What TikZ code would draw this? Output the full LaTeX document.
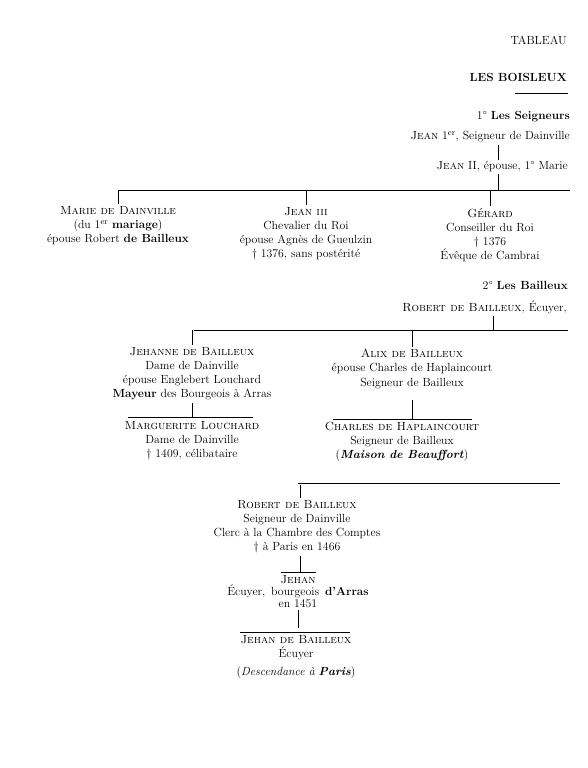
\documentclass[tikz,border=0pt]{standalone}
\usepackage{fontspec}
\begin{document}
\begin{tikzpicture}[x=1pt,y=-1pt,
    every node/.style={inner sep=0pt,font=\fontsize{11.8}{14.2}\selectfont},
    person/.style={anchor=north,align=center},
    head/.style={anchor=east},
    bar/.style={line width=0.6pt}]
    \useasboundingbox (0,0) rectangle (588,768);
    \node[head] (tab) at (567,40) {TABLEAU};
    \node[head] (title) at (567,77) {\textbf{LES BOISLEUX}};
    \draw[bar] (515,93) -- (568,93);
    \node[head] (sec1) at (570,117) {1° \textbf{Les Seigneurs}};
    \node[head] (jean1) at (570,137) {\textsc{Jean} 1\textsuperscript{er}, Seigneur\ de\ Dainville};
    \node[head] (jean2) at (568,167) {\textsc{Jean} II, épouse,\ 1° Marie};
    \coordinate (s1) at (498,190);
    \draw[bar] ([yshift=-2pt]jean1.south -| s1) -- ([yshift=2pt]jean2.north -| s1);
    \draw[bar] ([yshift=-2pt]jean2.south -| s1) -- (s1);
    \coordinate (b1l) at (118,190);
    \coordinate (b1r) at (570,190);
    \draw[bar] (b1l) -- (b1r);
    \node[person] (marie) at (118,206) {\textsc{Marie de Dainville}\\(du 1\textsuperscript{er} \textbf{mariage})\\épouse Robert \textbf{de Bailleux}};
    \node[person] (jean3) at (306,207) {\textsc{Jean iii}\\Chevalier du Roi\\épouse Agnès de Gueulzin\\\dag\ 1376, sans postérité};
    \node[person] (gerard) at (490,208) {\textsc{Gérard}\\Conseiller du Roi\\\dag\ 1376\\Évêque de Cambrai};
    \foreach \n in {marie,jean3,gerard}
        \draw[bar] (\n.north |- b1l) -- ([yshift=2pt]\n.north);
    \node[head] (sec2) at (568,285) {2° \textbf{Les Bailleux}};
    \node[head] (rob) at (567,307) {\textsc{Robert de Bailleux}, Écuyer,};
    \coordinate (s2) at (493,330);
    \draw[bar] ([yshift=-2pt]rob.south -| s2) -- (s2);
    \coordinate (b2l) at (194,330);
    \coordinate (b2r) at (568,330);
    \draw[bar] (b2l) -- (b2r);
    \node[person] (jehanne) at (192,347) {\textsc{Jehanne de Bailleux}\\Dame de Dainville\\épouse Englebert Louchard\\\textbf{Mayeur} des Bourgeois à Arras};
    \node[person] (alix) at (412,349) {\textsc{Alix de Bailleux}\\épouse Charles de Haplaincourt\\Seigneur de Bailleux};
    \foreach \n in {jehanne,alix}
        \draw[bar] (\n.north |- b2l) -- ([yshift=2pt]\n.north);
    \node[person] (marg) at (192,421) {\textsc{Marguerite Louchard}\\Dame de Dainville\\\dag\ 1409, célibataire};
    \node[person] (charles) at (402,422) {\textsc{Charles de Haplaincourt}\\Seigneur de Bailleux\\(\textit{\textbf{Maison de Beauffort}})};
    \draw[bar] ([yshift=-3pt]jehanne.south) -- (192,417);
    \draw[bar] (128,417) -- (253,417);
    \draw[bar] (412,400) -- (412,419);
    \draw[bar] (333,419) -- (472,419);
    \coordinate (b3l) at (298,483);
    \coordinate (b3r) at (560,483);
    \draw[bar] (b3l) -- (b3r);
    \node[person] (robert) at (297,500) {\textsc{Robert de Bailleux}\\Seigneur de Dainville\\Clerc à la Chambre des Comptes\\\dag\ à Paris en 1466};
    \draw[bar] (300,485) -- ([yshift=2pt]robert.north -| 300,0);
    \node[person,font=\fontsize{11.8}{12.3}\selectfont] (jehan) at (298,575) {\textsc{Jehan}\\Écuyer,\enspace bourgeois\enspace \textbf{d'Arras}\\en 1451};
    \draw[bar] ([yshift=-2pt]robert.south -| 300,0) -- (300,572);
    \draw[bar] (281,572) -- (316,572);
    \draw[bar] ([yshift=-2pt]jehan.south) -- (298,628);
    \draw[bar] (240,632) -- (350,632);
    \node[person] (jehan2) at (296,635) {\textsc{Jehan de Bailleux}\\Écuyer\\[4pt](\textit{Descendance à} \textbf{\textit{Paris}})};
\end{tikzpicture}
\end{document}
